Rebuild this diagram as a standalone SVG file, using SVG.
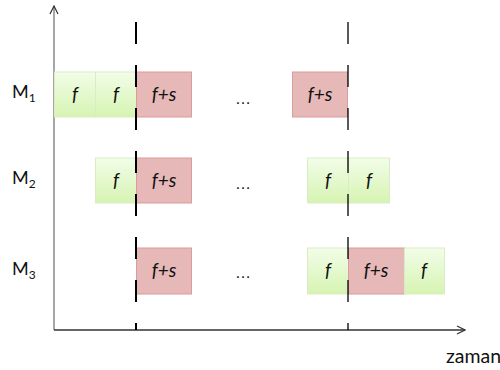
<svg xmlns="http://www.w3.org/2000/svg" width="500" height="370" viewBox="0 0 500 370">
  <defs>
    <linearGradient id="greenFill" x1="0" y1="0" x2="0" y2="1">
      <stop offset="0" stop-color="#f2fde8"/>
      <stop offset="1" stop-color="#d6f4b2"/>
    </linearGradient>
    <marker id="openArrow" viewBox="0 0 10 10" refX="9" refY="5" markerWidth="10" markerHeight="10" markerUnits="userSpaceOnUse" orient="auto">
      <path d="M1,1 L9,5 L1,9" fill="none" stroke="#333" stroke-width="1.2"/>
    </marker>
    <style>
      .g { fill: url(#greenFill); stroke: #d9edc4; stroke-width: 1; }
      .r { fill: #e6b8b7; stroke: #dc9c9a; stroke-width: 1; }
      .lbl { font-family: Lato, "Liberation Sans", sans-serif; font-style: italic; font-size: 19px; fill: #111; text-anchor: middle; }
      .m { font-family: Lato, "Liberation Sans", sans-serif; font-size: 18px; fill: #111; }
      .t { font-family: Lato, "Liberation Sans", sans-serif; font-size: 19.5px; fill: #111; }
      .dots { font-family: "Liberation Sans", sans-serif; font-size: 16px; fill: #111; text-anchor: middle; }
      .axis { fill: none; stroke-width: 1.3; }
      .sync { fill: none; stroke: #000; stroke-dasharray: 22 21; }
    </style>
  </defs>

  <!-- axes -->
  <g id="axes">
    <line class="axis" x1="54" y1="330" x2="54" y2="6" stroke="#777" marker-end="url(#openArrow)"/>
    <line class="axis" x1="54" y1="330" x2="465" y2="330" stroke="#333" marker-end="url(#openArrow)"/>
    <text class="t" x="446" y="363">zaman</text>
  </g>

  <!-- machine labels -->
  <g id="labels">
    <text class="m" x="12" y="98">M<tspan font-size="12" dy="4">1</tspan></text>
    <text class="m" x="12" y="184">M<tspan font-size="12" dy="4">2</tspan></text>
    <text class="m" x="12" y="275">M<tspan font-size="12" dy="4">3</tspan></text>
  </g>

  <!-- row M1 -->
  <g id="m1-a"><rect class="g" x="54.5" y="72" width="41" height="45"/><text class="lbl" x="75" y="101">f</text></g>
  <g id="m1-b"><rect class="g" x="95.5" y="72" width="41" height="45"/><text class="lbl" x="116" y="101">f</text></g>
  <g id="m1-c"><rect class="r" x="136.5" y="72" width="55" height="45"/><text class="lbl" x="164" y="101">f+s</text></g>
  <g id="m1-dots"><text class="dots" x="243" y="104">…</text></g>
  <g id="m1-d"><rect class="r" x="292.5" y="72" width="55" height="45"/><text class="lbl" x="320" y="101">f+s</text></g>

  <!-- row M2 -->
  <g id="m2-a"><rect class="g" x="95.5" y="158" width="41" height="45"/><text class="lbl" x="116" y="187">f</text></g>
  <g id="m2-b"><rect class="r" x="136.5" y="158" width="55" height="45"/><text class="lbl" x="164" y="187">f+s</text></g>
  <g id="m2-dots"><text class="dots" x="243" y="189">…</text></g>
  <g id="m2-c"><rect class="g" x="307.5" y="158" width="41" height="45"/><text class="lbl" x="328" y="187">f</text></g>
  <g id="m2-d"><rect class="g" x="348.5" y="158" width="41" height="45"/><text class="lbl" x="369" y="187">f</text></g>

  <!-- row M3 -->
  <g id="m3-a"><rect class="r" x="136.5" y="248" width="55" height="46"/><text class="lbl" x="164" y="277">f+s</text></g>
  <g id="m3-dots"><text class="dots" x="243" y="278">…</text></g>
  <g id="m3-b"><rect class="g" x="307.5" y="248" width="41" height="46"/><text class="lbl" x="328" y="277">f</text></g>
  <g id="m3-c"><rect class="r" x="348.5" y="248" width="56" height="46"/><text class="lbl" x="376" y="277">f+s</text></g>
  <g id="m3-d"><rect class="g" x="404.5" y="248" width="40" height="46"/><text class="lbl" x="424" y="277">f</text></g>

  <!-- synchronisation lines -->
  <g id="connectors">
    <line class="sync" x1="136" y1="22" x2="136" y2="330" stroke-width="2"/>
    <line class="sync" x1="348" y1="22" x2="348" y2="330" stroke-width="1.3"/>
  </g>
</svg>
